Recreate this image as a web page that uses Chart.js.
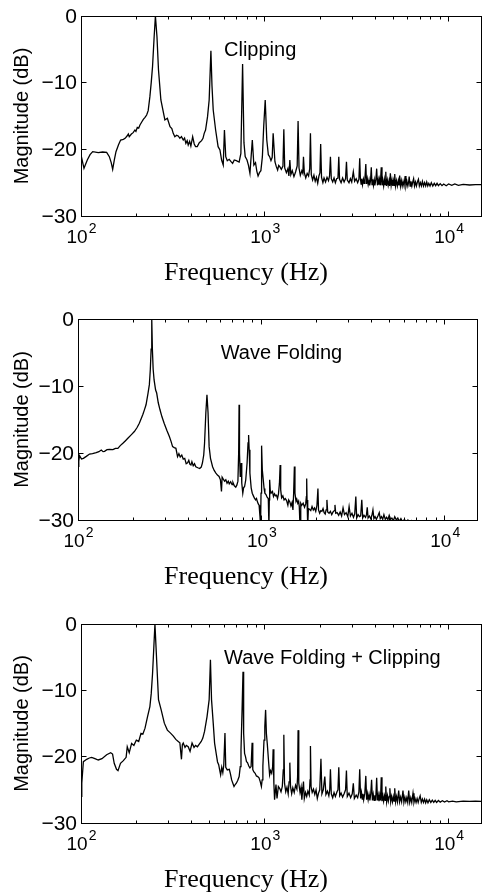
<!DOCTYPE html>
<html>
<head>
<meta charset="utf-8">
<title>Spectra</title>
<script src="https://cdn.jsdelivr.net/npm/chart.js@4.4.1/dist/chart.umd.min.js"></script>
<style>
  html, body { margin: 0; padding: 0; background: #fff; }
  #wrap { position: relative; width: 482px; height: 892px; overflow: hidden; }
  canvas { position: absolute; left: 0; }
</style>
</head>
<body>
<div id="wrap">
  <canvas id="c1" width="482" height="300" style="top:0px"></canvas>
  <canvas id="c2" width="482" height="300" style="top:300px"></canvas>
  <canvas id="c3" width="482" height="292" style="top:600px"></canvas>
</div>
<script>
// axis ticks
const yTicks = [0, -10, -20, -30];
const xTicks = [100, 1000, 10000];
const xTickExps = ['2', '3', '4'];
const panelTitles = ['Clipping', 'Wave Folding', 'Wave Folding + Clipping'];
const titleAt = [600, -6]; // Hz, dB (left end of the panel label)

// --- Clipping ---
const freqClip = [100, 103.8, 108.2, 112, 115.8, 124.2, 131, 137.9, 142.6, 146, 148.7, 152, 155, 160, 164.3, 170, 173.8, 178, 180.9, 183, 188, 192.2, 196.5, 199, 202.4, 206, 209.3, 214, 218.3, 223, 227.6, 232, 237, 241, 245, 250, 254, 259, 264, 272, 286, 295, 305, 312, 317.5, 324, 331, 338, 345, 352, 360, 366, 372, 378, 383, 390, 396, 405, 413, 420, 429, 440, 453, 461, 468, 476, 488, 498, 509, 516, 524, 540, 557, 570, 582, 594, 603, 613, 625, 640, 655, 668, 682, 700, 712, 725, 741, 757, 770, 782, 800, 815, 830, 855, 872, 890, 905, 919, 935, 952, 970, 986, 1005, 1025, 1045, 1062, 1080, 1097, 1110, 1135, 1155, 1174, 1190, 1206, 1230, 1255, 1269, 1283, 1310, 1335, 1352, 1368, 1385, 1410, 1440, 1470, 1500, 1517, 1535, 1560, 1590, 1610, 1623, 1640, 1670, 1700, 1730, 1755, 1771, 1790, 1820, 1850, 1880, 1910, 1940, 1970, 1995, 2013, 2035, 2070, 2100, 2140, 2180, 2220, 2250, 2275, 2300, 2340, 2380, 2420, 2460, 2500, 2526, 2550, 2600, 2650, 2700, 2750, 2781, 2810, 2870, 2920, 2970, 3030, 3080, 3140, 3200, 3250,
  3283, 3310, 3340, 3370, 3400, 3440, 3470, 3500, 3544, 3575, 3610, 3650, 3690, 3720, 3760, 3795, 3830, 3865, 3900, 3940, 3970, 4020, 4060, 4100, 4140, 4170, 4210, 4250, 4300, 4340, 4380, 4430, 4470, 4510, 4550, 4590, 4640, 4690, 4740, 4780, 4820, 4870, 4920, 4970, 5020, 5060, 5090, 5140, 5200, 5260, 5320, 5370, 5416, 5470, 5530, 5590, 5650, 5720, 5800, 5860, 5930, 6000, 6060, 6100, 6170, 6240, 6310, 6380, 6450, 6520, 6600, 6680, 6760, 6850, 6930, 7020, 7110, 7200, 7300, 7400, 7500, 7600, 7700, 7800, 7920, 8050, 8200, 8350, 8500, 8650, 8800, 9000, 9200, 9400, 9700, 10000, 10400, 10800, 11300, 12000, 13000, 14000, 15000];
const magClip = [-20.85, -22.85, -21.6, -20.8, -20.35, -20.5, -20.4, -20.45, -21.1, -22.0, -23.0, -21.5, -20.35, -19.3, -18.6, -18.5, -18.35, -18.0, -17.7, -18.1, -17.7, -17.5, -17.1, -17.3, -16.7, -16.8, -16.35, -15.9, -15.5, -15.2, -14.85, -14.2, -12.1, -10.0, -7.6, -3.1, 0, -3.1, -8.1, -12.6, -15.6, -15.35, -16.6, -16.9, -17.6, -18.1, -17.9, -18.0, -18.35, -18.1, -18.6, -18.3, -19.1, -18.7, -19.35, -18.8, -19.5, -18.1, -19.2, -19.6, -19.6, -19.0, -18.7, -18.35, -17.6, -17.1, -15.1, -12.6, -5.2, -10.5, -14.1, -17.1, -19.6, -20.1, -21.6, -22.35, -17.1, -21.1, -21.7, -21.5, -21.85, -22.1, -21.6, -21.7, -21.8, -21.9, -20.6, -7.2, -19.0, -21.1, -21.6, -22.4, -23.6, -18.6, -22.35, -22.0, -23.3, -24.0, -23.5, -23.2, -21.1, -16.6, -12.6, -18.6, -20.8, -21.1, -21.7, -21.2, -17.6, -21.85, -22.6, -23.1, -22.4, -22.6, -23.0, -22.5, -17.0, -22.8, -23.5, -22.9, -24.0, -21.6, -23.8, -23.2, -24.1, -23.4, -22.5, -15.75, -22.8, -23.9, -23.2, -23.6, -21.1, -23.5, -24.3, -23.6, -24.0, -22.9, -17.6, -23.8, -24.6, -23.9, -24.8, -24.2, -25.1, -24.0, -23.5, -19.2, -24.2, -25.0, -24.3, -24.9, -24.2, -24.7, -24.0, -21.1, -24.4, -24.9, -24.3, -25.0, -24.4, -24.3, -21.1, -24.5, -25.0, -24.3, -24.9, -24.4, -21.85, -24.6, -25.0, -24.4, -24.9, -23.35, -24.8, -24.4, -25.0, -24.5,
  -21.35, -24.3, -25.2, -24.4, -25.3, -24.5, -25.1, -24.6, -22.2, -25.2, -24.4, -25.3, -24.6, -25.4, -24.7, -22.7, -25.3, -24.5, -25.4, -24.6, -25.4, -24.5, -22.9, -25.4, -24.6, -25.3, -24.5, -25.4, -22.7, -25.4, -24.6, -25.5, -24.5, -25.3, -23.35, -25.5, -24.6, -25.4, -24.7, -25.5, -23.6, -25.4, -24.6, -25.5, -24.7, -25.4, -23.7, -25.5, -24.7, -25.5, -24.7, -25.4, -23.95, -25.5, -24.7, -25.5, -24.8, -25.5, -24.0, -25.5, -24.8, -25.5, -24.9, -24.1, -25.5, -24.8, -25.5, -24.9, -24.4, -25.5, -24.9, -25.5, -24.9, -24.5, -25.5, -25.0, -25.5, -24.8, -25.5, -25.0, -25.5, -24.9, -25.5, -25.1, -25.5, -25.0, -25.5, -25.1, -25.45, -25.1, -25.45, -25.15, -25.45, -25.2, -25.45, -25.2, -25.4, -25.2, -25.4, -25.25, -25.35, -25.3, -25.3];

// --- Wave folding ---
const freqFold = [100, 101, 102, 104.5, 107, 111, 115.6, 120, 125.7, 130, 133.9, 137, 139.5, 144, 148.5, 155, 160, 165, 170, 175.7, 181, 187, 195, 203, 210, 216, 221, 225.5, 230, 235, 241, 245, 248, 250.5, 252.5, 254.5, 257, 260, 265, 268.6, 274, 280, 287, 295, 305, 315, 322, 328, 335, 342, 349, 355, 361, 368, 375, 382, 389, 396, 402, 408, 413, 418, 425, 432, 439, 450, 461, 470, 477, 485, 490, 498, 505, 512, 519, 528, 542, 553, 565, 576, 588, 598, 606, 611, 620, 630, 640, 650, 660, 668, 680, 692, 700, 712, 725, 735, 745, 752, 756, 760, 767, 773, 777, 782, 792, 800, 810, 822, 836, 846, 852, 858, 866, 880, 892, 905, 917, 930, 941, 951, 962, 972, 983, 990, 996, 1000, 1006, 1012, 1024, 1035, 1045, 1060, 1075, 1091, 1100, 1105, 1110, 1118, 1130, 1150, 1165, 1180, 1195, 1210, 1225, 1240, 1255, 1266, 1275, 1290, 1310, 1330, 1350, 1373, 1395, 1410, 1430, 1450, 1470, 1487, 1500, 1514, 1525, 1545, 1560, 1580, 1597, 1610, 1625, 1640, 1660, 1690, 1720, 1745, 1760, 1767, 1775, 1790, 1805, 1830, 1860, 1890, 1920, 1950, 1980, 2010, 2035, 2050, 2080, 2110, 2140, 2170, 2200, 2230, 2255, 2278, 2300, 2340, 2380, 2420, 2460, 2500, 2520, 2545, 2590, 2640, 2690, 2740, 2790, 2840, 2900, 2960, 3010, 3060, 3120, 3180, 3230, 3275, 3310, 3370, 3430, 3480, 3530, 3570, 3630, 3700, 3745, 3780, 3820, 3880, 3950, 4010, 4060, 4110, 4170, 4240, 4320, 4395, 4450, 4520, 4590, 4660, 4740, 4820, 4900, 4980, 5070, 5150, 5250, 5340, 5450, 5550, 5650, 5770, 5900, 6030, 6170, 6300, 6450, 6600, 6800, 7000, 7200, 7500, 8000, 9000, 10000, 12000, 15000];
const magFold = [-22.0, -21.2, -20.4, -20.9, -20.8, -20.5, -20.15, -20.1, -19.95, -19.8, -19.55, -19.8, -19.75, -19.5, -19.45, -19.5, -19.3, -19.3, -18.9, -18.55, -18.2, -17.8, -17.3, -16.8, -16.2, -15.55, -14.9, -14.3, -13.6, -12.8, -11.05, -9.8, -7.5, -4.5, 0, -4.5, -7.5, -9.1, -10.6, -11.05, -12.5, -13.55, -14.6, -15.55, -16.6, -17.55, -18.3, -19.05, -19.2, -19.3, -20.55, -20.1, -20.6, -20.3, -20.9, -20.8, -21.6, -21.45, -21.1, -21.7, -21.8, -21.3, -21.9, -21.6, -22.05, -22.2, -22.3, -22.1, -21.5, -20.3, -18.55, -14.0, -11.3, -14.0, -19.05, -20.8, -22.05, -22.6, -23.0, -23.3, -23.5, -24.0, -25.75, -23.6, -23.9, -24.2, -24.0, -24.5, -24.2, -24.6, -24.3, -24.7, -24.4, -24.9, -25.1, -24.8, -24.2, -20.0, -12.8, -20.0, -23.5, -22.6, -21.5, -24.5, -26.0, -25.2, -25.0, -24.0, -21.5, -18.5, -17.3, -19.5, -23.0, -25.2, -26.0, -26.4, -26.75, -27.0, -26.8, -27.25, -27.6, -27.8, -29.5, -31.0, -26.0, -22.0, -18.9, -22.5, -24.0, -25.3, -26.0, -26.2, -26.6, -26.8, -31.0, -27.0, -24.0, -25.5, -26.0, -25.75, -26.5, -26.1, -26.4, -26.3, -26.8, -26.1, -24.5, -21.8, -25.5, -26.7, -26.4, -27.0, -26.8, -27.1, -27.8, -27.0, -27.3, -27.9, -27.4, -28.5, -26.0, -22.0, -26.0, -27.2, -26.9, -27.5, -27.2, -28.0, -31.0, -27.5, -27.8, -27.5, -28.1, -27.6, -26.5, -23.8, -27.0, -31.0, -28.3, -28.4, -28.6, -28.0, -28.5, -28.2, -28.7, -27.8, -25.3, -28.5, -29.0, -28.6, -28.7, -28.3, -28.9, -29.1, -28.5, -27.0, -28.8, -29.0, -28.7, -29.2, -28.8, -28.6, -27.75, -29.0, -28.9, -29.3, -28.8, -29.4, -28.2, -29.2, -28.9, -29.5, -28.0, -29.4, -29.0, -29.6, -29.1, -26.5, -29.7, -29.2, -29.5, -29.4, -27.0, -29.7, -29.3, -29.6, -29.2, -28.1, -29.7, -29.4, -29.8, -29.3, -28.5, -29.8, -29.5, -29.9, -29.4, -28.9, -29.8, -29.5, -29.9, -29.2, -29.9, -29.6, -29.95, -29.3, -29.9, -29.7, -30.1, -29.5, -30.0, -29.7, -30.2, -29.8, -30.3, -29.9, -30.4, -30.0, -30.5, -30.1, -30.6, -30.2, -30.8, -31.0, -31.3, -31.5, -31.8, -32.0, -32.2];

// --- Wave folding + clipping ---
const freqBoth = [100, 101, 103, 107.4, 111, 114.3, 119, 124.2, 130, 137.9, 145, 148.5, 151.6, 156, 159, 164, 170, 176, 178.5, 183, 188.5, 194, 200, 206, 212, 217, 223, 230, 237, 241, 245, 249, 252.5, 256, 260, 264, 273, 284, 295, 307, 318, 328, 338, 345, 352, 356, 360, 368, 374, 383, 392, 402, 412, 420, 430, 440, 451, 460, 470, 485, 498, 506, 513, 524, 533, 545, 553, 561, 568, 575, 583, 591, 598, 607, 613, 625, 641, 650, 660, 670, 680, 690, 700, 712, 725, 735, 742, 752, 761, 767, 776, 785, 795, 805, 818, 830, 842, 853, 860, 872, 886, 900, 915, 930, 945, 958, 967, 976, 990, 1000, 1010, 1020, 1031, 1050, 1062, 1075, 1090, 1103, 1110, 1120, 1130, 1150, 1165, 1185, 1206, 1225, 1245, 1260, 1269, 1280, 1300, 1320, 1340, 1355, 1368, 1380, 1400, 1420, 1445, 1470, 1495, 1508, 1517, 1530, 1555, 1575, 1590, 1605, 1623, 1640, 1665, 1690, 1715, 1745, 1762, 1771, 1785, 1810, 1840, 1870, 1900, 1930, 1960, 1990, 2020, 2045, 2080, 2120, 2150, 2190, 2230, 2255, 2275, 2300, 2340, 2380, 2420, 2470, 2500, 2526, 2555, 2600, 2650, 2700, 2750, 2780, 2810, 2870, 2930, 2990, 3030, 3070, 3140, 3200, 3250,
  3283, 3320, 3355, 3390, 3420, 3450, 3500, 3544, 3580, 3615, 3650, 3690, 3730, 3770, 3810, 3850, 3890, 3930, 3970, 4010, 4060, 4100, 4140, 4180, 4220, 4260, 4300, 4340, 4390, 4430, 4480, 4520, 4550, 4600, 4650, 4700, 4750, 4790, 4840, 4890, 4950, 5000, 5050, 5090, 5150, 5210, 5270, 5350, 5410, 5480, 5550, 5645, 5710, 5780, 5850, 5920, 5990, 6065, 6140, 6220, 6300, 6400, 6480, 6560, 6650, 6740, 6830, 6920, 7000, 7100, 7200, 7300, 7400, 7500, 7600, 7720, 7850, 8000, 8150, 8300, 8450, 8600, 8800, 9000, 9250, 9500, 9800, 10000, 10500, 11000, 12000, 13000, 14000, 15000];
const magBoth = [-26.0, -24.0, -20.75, -20.4, -20.2, -20.1, -20.3, -20.5, -20.3, -19.7, -19.4, -19.6, -21.0, -21.9, -22.1, -21.0, -20.6, -20.1, -18.5, -19.4, -18.0, -18.3, -17.5, -17.7, -16.5, -16.6, -15.7, -14.0, -12.45, -10.5, -7.5, -3.5, 0, -3.5, -7.5, -11.4, -12.95, -14.95, -16.0, -16.45, -16.9, -17.4, -17.7, -17.9, -20.4, -18.2, -17.95, -18.6, -18.3, -18.5, -19.2, -17.95, -18.6, -18.3, -18.5, -18.1, -17.7, -17.2, -16.2, -13.95, -11.4, -5.4, -11.4, -14.95, -17.95, -19.7, -20.8, -21.2, -22.0, -22.75, -21.6, -22.4, -21.3, -16.45, -21.6, -22.0, -21.9, -22.6, -23.5, -24.0, -24.5, -24.2, -24.0, -23.6, -23.0, -21.5, -19.0, -13.0, -7.2, -16.45, -19.5, -20.0, -20.75, -20.9, -21.4, -21.7, -21.5, -17.9, -21.95, -22.3, -22.5, -22.9, -23.0, -23.2, -23.8, -24.5, -23.5, -21.4, -17.5, -15.5, -12.95, -16.5, -18.0, -21.0, -22.75, -22.1, -22.5, -21.5, -18.9, -24.0, -26.5, -24.2, -26.3, -24.5, -24.8, -25.3, -24.5, -22.0, -16.7, -24.0, -25.3, -24.6, -25.6, -23.8, -20.9, -24.5, -25.6, -24.7, -25.4, -24.3, -24.9, -23.0, -16.0, -24.0, -25.4, -24.6, -26.5, -25.2, -23.75, -26.3, -25.4, -26.0, -25.2, -25.8, -23.5, -18.4, -24.5, -25.4, -24.9, -25.7, -25.0, -26.3, -25.5, -25.0, -20.3, -25.6, -25.0, -23.0, -25.7, -25.2, -25.9, -25.0, -21.9, -25.6, -26.2, -25.4, -26.0, -25.3, -25.0, -21.6, -25.9, -25.5, -26.1, -25.6, -25.0, -22.1, -26.0, -25.5, -26.2, -25.6, -24.0, -26.3, -25.8, -26.2, -25.3,
  -21.9, -26.3, -25.4, -26.4, -25.6, -26.5, -25.5, -22.9, -26.5, -25.6, -26.5, -25.7, -26.6, -25.6, -23.5, -26.6, -25.7, -26.6, -25.8, -26.6, -23.2, -26.6, -25.8, -26.7, -25.8, -26.6, -23.1, -26.7, -25.9, -26.7, -25.9, -26.6, -24.5, -26.8, -25.9, -26.7, -26.0, -24.75, -26.8, -26.0, -26.8, -26.0, -26.7, -24.75, -26.8, -26.0, -26.8, -25.1, -26.8, -26.1, -26.8, -25.1, -26.9, -26.1, -26.8, -26.2, -26.9, -25.1, -26.9, -26.2, -26.9, -25.5, -26.9, -26.3, -26.9, -26.3, -26.9, -26.3, -25.9, -26.9, -26.4, -26.9, -26.4, -26.95, -26.5, -26.95, -26.5, -26.9, -26.55, -26.9, -26.6, -26.9, -26.6, -26.85, -26.65, -26.85, -26.65, -26.8, -26.7, -26.8, -26.7, -26.75, -26.7, -26.75];

const SANS = '"Liberation Sans", Arial, Helvetica, sans-serif';
const SERIF = '"Liberation Serif", "Times New Roman", serif';

function pts(freqs, mags) {
  return freqs.map(function(f, i) { return { x: f, y: mags[i] }; });
}

function crisp(v) {
  return Math.floor(v) + 0.5;
}

// MATLAB-like box: inward ticks on all four sides, labels, titles
const matlabAxes = {
  id: 'matlabAxes',
  afterDraw(chart, args, opts) {
    const ctx = chart.ctx;
    const a = chart.chartArea;
    const xs = chart.scales.x;
    const ys = chart.scales.y;
    const L = crisp(a.left), R = crisp(a.right), T = crisp(a.top), B = crisp(a.bottom);

    ctx.save();
    ctx.strokeStyle = '#000';
    ctx.fillStyle = '#000';
    ctx.lineWidth = 1;
    ctx.strokeRect(L, T, R - L, B - T);

    ctx.beginPath();
    // y ticks
    yTicks.forEach(function(v) {
      const py = crisp(ys.getPixelForValue(v));
      ctx.moveTo(L, py); ctx.lineTo(L + 5, py);
      ctx.moveTo(R, py); ctx.lineTo(R - 5, py);
    });
    // x major ticks
    xTicks.forEach(function(v) {
      const px = crisp(xs.getPixelForValue(v));
      ctx.moveTo(px, B); ctx.lineTo(px, B - 5);
      ctx.moveTo(px, T); ctx.lineTo(px, T + 5);
    });
    // x minor ticks
    xTicks.forEach(function(d) {
      for (let k = 2; k <= 9; k++) {
        const f = d * k;
        if (f > xs.max) continue;
        const px = crisp(xs.getPixelForValue(f));
        ctx.moveTo(px, B); ctx.lineTo(px, B - 3);
        ctx.moveTo(px, T); ctx.lineTo(px, T + 3);
      }
    });
    ctx.stroke();

    // y tick labels
    ctx.font = '21px ' + SANS;
    ctx.textAlign = 'right';
    ctx.textBaseline = 'middle';
    yTicks.forEach(function(v) {
      const label = v < 0 ? '\u2212' + Math.abs(v) : String(v);
      ctx.fillText(label, a.left - 4, ys.getPixelForValue(v) + 1);
    });

    // x tick labels: 10^n
    ctx.textAlign = 'left';
    ctx.textBaseline = 'alphabetic';
    xTicks.forEach(function(v, i) {
      ctx.font = '19px ' + SANS;
      const wBase = ctx.measureText('10').width;
      ctx.font = '14px ' + SANS;
      const wExp = ctx.measureText(xTickExps[i]).width;
      const x0 = xs.getPixelForValue(v) - (wBase + wExp) / 2;
      ctx.font = '19px ' + SANS;
      ctx.fillText('10', x0, a.bottom + 27);
      ctx.font = '14px ' + SANS;
      ctx.fillText(xTickExps[i], x0 + wBase + 1, a.bottom + 17);
    });

    // axis titles
    ctx.font = '26px ' + SERIF;
    ctx.textAlign = 'center';
    ctx.fillText('Frequency (Hz)', 246, a.bottom + 64);

    ctx.save();
    ctx.translate(22, (a.top + a.bottom) / 2);
    ctx.rotate(-Math.PI / 2);
    ctx.font = '20px ' + SANS;
    ctx.textBaseline = 'middle';
    ctx.fillText('Magnitude (dB)', 0, 0);
    ctx.restore();

    // panel label
    ctx.font = '20px ' + SANS;
    ctx.textAlign = 'left';
    ctx.fillText(opts.label, xs.getPixelForValue(titleAt[0]), ys.getPixelForValue(titleAt[1]));

    ctx.restore();
  }
};

function makePanel(id, freqs, mags, label, pad) {
  return new Chart(document.getElementById(id), {
    type: 'scatter',
    data: {
      datasets: [{
        data: pts(freqs, mags),
        showLine: true,
        borderColor: '#000',
        borderWidth: 1.3,
        pointRadius: 0,
        tension: 0,
      }],
    },
    options: {
      responsive: false,
      animation: false,
      events: [],
      layout: { padding: pad },
      scales: {
        x: { type: 'logarithmic', min: 100, max: 15000, display: false },
        y: { type: 'linear', min: -30, max: 0, display: false },
      },
      plugins: {
        legend: { display: false },
        tooltip: { enabled: false },
        matlabAxes: { label: label },
      },
    },
    plugins: [matlabAxes],
  });
}

makePanel('c1', freqClip, magClip, panelTitles[0], { left: 81, right: 1, top: 16, bottom: 84 });
makePanel('c2', freqFold, magFold, panelTitles[1], { left: 78, right: 5, top: 19, bottom: 80 });
makePanel('c3', freqBoth, magBoth, panelTitles[2], { left: 81, right: 1, top: 24, bottom: 69 });
</script>
</body>
</html>
